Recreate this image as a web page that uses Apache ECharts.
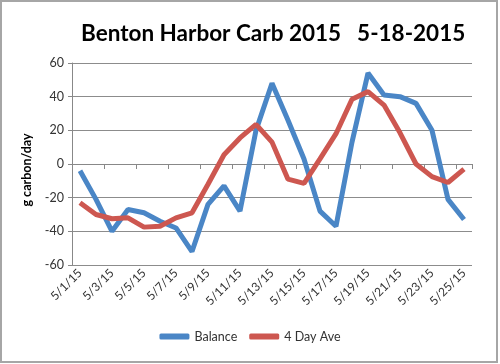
<!DOCTYPE html>
<html>
<head>
<meta charset="utf-8">
<script src="https://cdn.jsdelivr.net/npm/echarts@6/dist/echarts.min.js"></script>
<style>html,body{margin:0;padding:0;background:#fff;}#c{width:500px;height:364px;}</style>
</head>
<body>
<div id="c"></div>
<script>
const categories = ['5/1/15','5/2/15','5/3/15','5/4/15','5/5/15','5/6/15','5/7/15','5/8/15','5/9/15','5/10/15','5/11/15','5/12/15','5/13/15','5/14/15','5/15/15','5/16/15','5/17/15','5/18/15','5/19/15','5/20/15','5/21/15','5/22/15','5/23/15','5/24/15','5/25/15'];
const balance = [-4, -21, -40, -27, -29, -34, -38, -52, -24, -13, -28, 20, 48, 26, 3, -28, -37, 13, 54, 41, 40, 36, 20, -21, -33];
const fourDayAve = [-23, -30, -32.5, -32, -37.5, -37, -32, -29, -12, 5.5, 15.5, 23.5, 13, -9, -11.5, 3, 18, 38.5, 43, 35, 18.5, 0, -7.5, -11, -3];
const yTicks = { min: -60, max: 60, interval: 20 };

const chart = echarts.init(document.getElementById('c'));
const font = 'Lato, "Open Sans", sans-serif';
chart.setOption({
  animation: false,
  backgroundColor: '#fff',
  textStyle: { fontFamily: font },
  title: {
    text: '{a|Benton Harbor Carb 2015}{b|5-18-2015}',
    left: 76, top: 17,
    textStyle: {
      rich: {
        a: { fontFamily: font, fontWeight: 'bold', fontSize: 22.5, color: '#000' },
        b: { fontFamily: font, fontWeight: 'bold', fontSize: 22.5, color: '#000', padding: [0, 0, 0, 16] }
      }
    }
  },
  graphic: [{
    type: 'rect', shape: { x: 1, y: 1, width: 496, height: 361 },
    style: { fill: 'none', stroke: '#a6a6a6', lineWidth: 2 }, silent: true
  }],
  legend: {
    bottom: 16, left: 'center', itemWidth: 30, itemHeight: 6, itemGap: 12,
    icon: 'roundRect',
    textStyle: { fontFamily: font, fontSize: 12.5, color: '#333' },
    data: ['Balance', '4 Day Ave']
  },
  grid: { left: 72, right: 28, top: 63, bottom: 99, containLabel: false },
  xAxis: {
    type: 'category', data: categories, boundaryGap: true,
    axisLine: { lineStyle: { color: '#888', width: 1 } },
    axisTick: { show: true, interval: 1, length: 5, lineStyle: { color: '#888' } },
    axisLabel: { interval: 1, rotate: 45, fontSize: 12, color: '#333', margin: 6, fontFamily: font }
  },
  yAxis: {
    type: 'value', min: yTicks.min, max: yTicks.max, interval: yTicks.interval,
    name: 'g carbon/day', nameLocation: 'middle', nameGap: 31, nameRotate: 90,
    nameTextStyle: { fontFamily: font, fontWeight: 'bold', fontSize: 12.5, color: '#000', padding: [0, 12, 0, 0] },
    axisLine: { show: true, lineStyle: { color: '#888' } },
    axisTick: { show: true, length: 4, lineStyle: { color: '#888' } },
    axisLabel: { fontSize: 12.5, color: '#333', margin: 8, fontFamily: font },
    splitLine: { lineStyle: { color: '#8c8c8c', width: 1 } }
  },
  series: [
    { name: 'Balance', type: 'line', data: balance, symbol: 'none', smooth: false,
      lineStyle: { color: '#4a86c6', width: 5 }, itemStyle: { color: '#4a86c6' } },
    { name: '4 Day Ave', type: 'line', data: fourDayAve, symbol: 'none', smooth: false,
      lineStyle: { color: '#cd5750', width: 5 }, itemStyle: { color: '#cd5750' } }
  ]
});
</script>
</body>
</html>
